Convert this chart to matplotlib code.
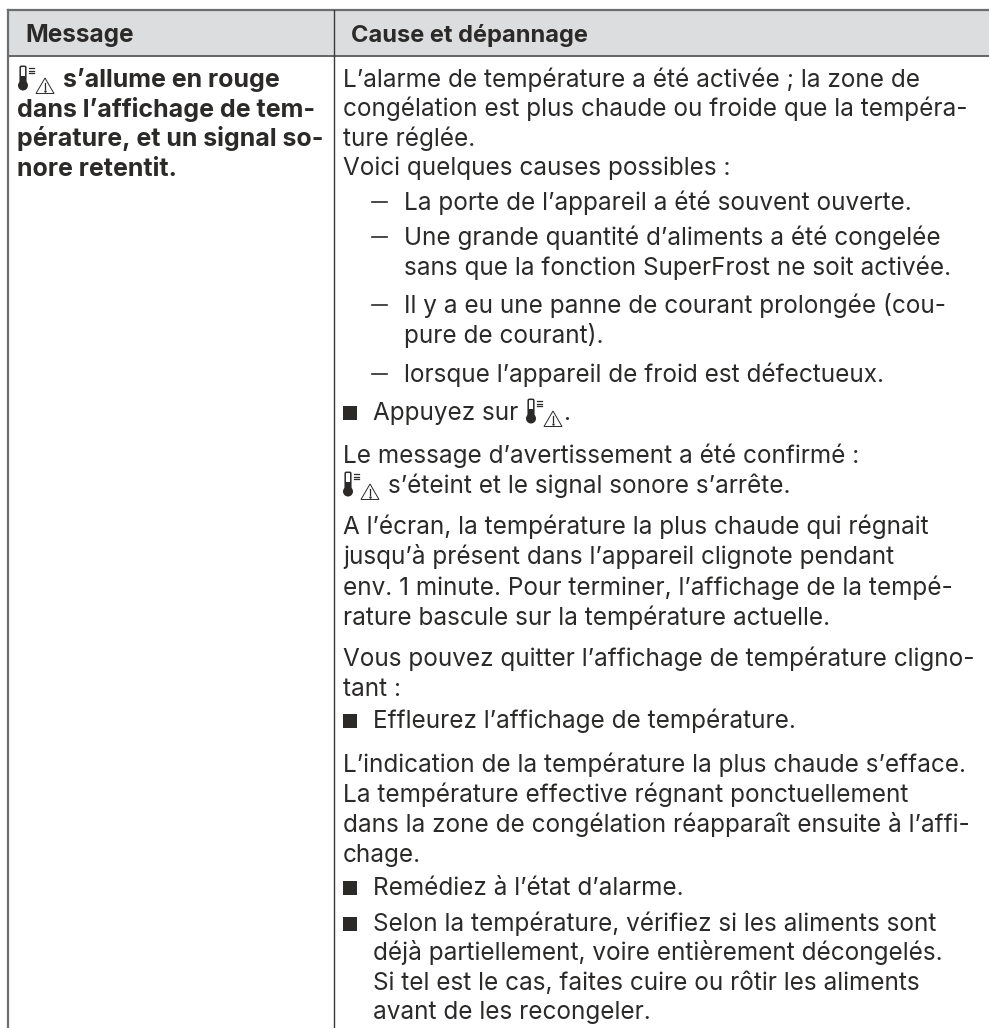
import matplotlib
matplotlib.use("Agg")
from matplotlib import pyplot as plt
from matplotlib.patches import Rectangle, Circle, Polygon, FancyBboxPatch

W, H = 989, 1028

header_labels = ["Message", "Cause et dépannage"]

message_lines = ["s’allume en rouge", "dans l’affichage de tem-",
                 "pérature, et un signal so-", "nore retentit."]
message_y = [87, 117, 146, 176]

# (kind, text) for every line of the right column
cause_lines = [
    ("p", "L’alarme de température a été activée ; la zone de"),
    ("p", "congélation est plus chaude ou froide que la tempéra-"),
    ("p", "ture réglée."),
    ("p", "Voici quelques causes possibles :"),
    ("d", "La porte de l’appareil a été souvent ouverte."),
    ("d", "Une grande quantité d’aliments a été congelée"),
    ("c", "sans que la fonction SuperFrost ne soit activée."),
    ("d", "Il y a eu une panne de courant prolongée (cou-"),
    ("c", "pure de courant)."),
    ("d", "lorsque l’appareil de froid est défectueux."),
    ("b", "Appuyez sur"),
    ("p", "Le message d’avertissement a été confirmé :"),
    ("i", "s’éteint et le signal sonore s’arrête."),
    ("p", "A l’écran, la température la plus chaude qui régnait"),
    ("p", "jusqu’à présent dans l’appareil clignote pendant"),
    ("p", "env. 1 minute. Pour terminer, l’affichage de la tempé-"),
    ("p", "rature bascule sur la température actuelle."),
    ("p", "Vous pouvez quitter l’affichage de température cligno-"),
    ("p", "tant :"),
    ("b", "Effleurez l’affichage de température."),
    ("p", "L’indication de la température la plus chaude s’efface."),
    ("p", "La température effective régnant ponctuellement"),
    ("p", "dans la zone de congélation réapparaît ensuite à l’affi-"),
    ("p", "chage."),
    ("b", "Remédiez à l’état d’alarme."),
    ("b", "Selon la température, vérifiez si les aliments sont"),
    ("c2", "déjà partiellement, voire entièrement décongelés."),
    ("c2", "Si tel est le cas, faites cuire ou rôtir les aliments"),
    ("c2", "avant de les recongeler."),
]
# text baselines
cause_y = [87, 116, 146, 175, 210, 245, 275, 313, 343, 382, 420, 463, 493,
           534, 564, 595, 625, 666, 696, 728, 772, 802, 832, 862, 895, 931,
           960, 990, 1019]

TEXT = "#2b2a29"
FS = 17.5
FS_BOLD = 18.0
plt.rcParams['font.family'] = ['Inter', 'DejaVu Sans']

fig = plt.figure(figsize=(W/100, H/100), dpi=100)
ax = fig.add_axes([0, 0, 1, 1])
ax.set_xlim(0, W)
ax.set_ylim(H, 0)
ax.axis('off')


def alarm_icon(x, base):
    # thermometer, three small dashes and warning triangle
    y = base - 8
    ax.add_patch(FancyBboxPatch((x+3.4, y-11.5), 3.2, 17, boxstyle="round,pad=1.2",
                                fc="white", ec=TEXT, lw=1.1))
    ax.add_patch(Rectangle((x+2.2, y-3), 5.6, 9, fc=TEXT, ec=TEXT, lw=0))
    ax.add_patch(Circle((x+5, y+6.5), 5, fc=TEXT, ec=TEXT, lw=0))
    for dy in (-11, -8.5, -6):
        ax.plot([x+11, x+16], [y+dy, y+dy], color=TEXT, lw=0.9)
    ax.add_patch(Polygon([(x+18, y+14.5), (x+27, y-1), (x+36, y+14.5)], closed=True,
                         fc="white", ec=TEXT, lw=0.7))
    ax.plot([x+27, x+27], [y+4, y+10], color=TEXT, lw=0.9)
    ax.plot([x+27], [y+12], '.', color=TEXT, ms=1.5)


ax.add_patch(Rectangle((8, 10), W-8, 45, fc="#dcddde", ec="none"))
ax.plot([8, W], [10, 10], color="#6d6e70", lw=1.6)
ax.plot([8, W], [55.5, 55.5], color="#3a3a3a", lw=1.1)
ax.plot([8, 8], [10, H], color="#6d6e70", lw=1.6)
ax.plot([333.5, 333.5], [10, H], color="#3a3a3a", lw=1.0)

ax.text(25, 42, header_labels[0], fontsize=FS, fontweight='bold', color=TEXT, va='baseline')
ax.text(351, 42, header_labels[1], fontsize=17.0, fontweight='bold', color=TEXT, va='baseline')

alarm_icon(18, message_y[0])
ax.text(63, message_y[0], message_lines[0], fontsize=FS_BOLD, fontweight='bold', color=TEXT, va='baseline')
for line, yy in zip(message_lines[1:], message_y[1:]):
    ax.text(17, yy, line, fontsize=FS_BOLD, fontweight='bold', color=TEXT, va='baseline')

indent = {"p": 343, "d": 404, "c": 404, "b": 373, "c2": 373, "i": 388}
for (kind, line), yy in zip(cause_lines, cause_y):
    if kind == "i":
        alarm_icon(343, yy)
    if kind == "d":
        ax.plot([372, 387], [yy-8, yy-8], color=TEXT, lw=1.2)
    if kind == "b":
        ax.add_patch(Rectangle((343, yy-14), 14, 14, fc=TEXT, ec="none"))
    ax.text(indent[kind], yy, line, fontsize=FS, color=TEXT, va='baseline')
    if line == "Appuyez sur":
        alarm_icon(526, yy)
        ax.text(563, yy, ".", fontsize=FS, color=TEXT, va='baseline')

fig.savefig("out.png", dpi=100)
